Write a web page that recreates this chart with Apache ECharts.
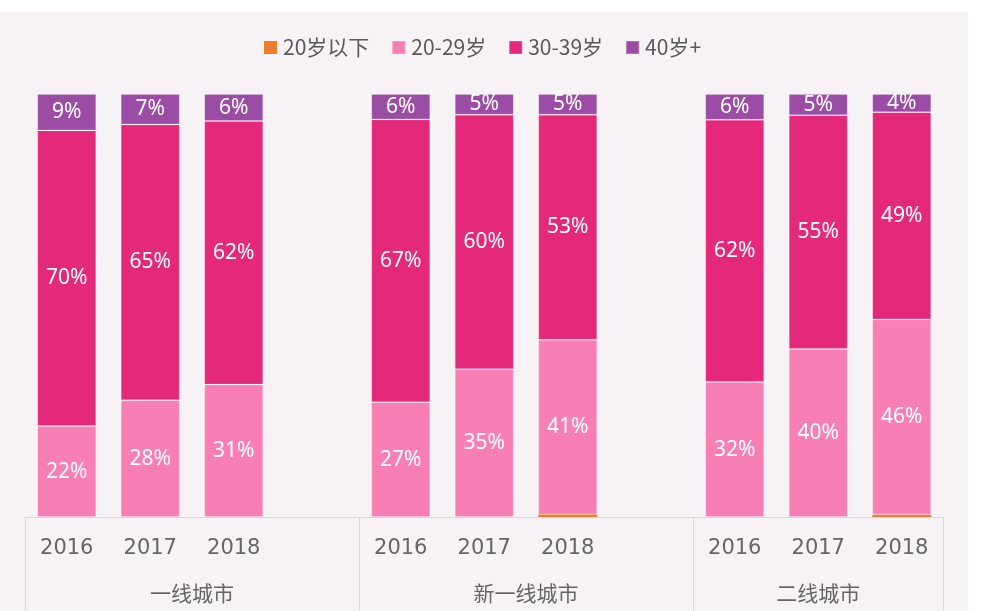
<!DOCTYPE html>
<html>
<head>
<meta charset="utf-8">
<script src="https://cdn.jsdelivr.net/npm/echarts@6/dist/echarts.min.js"></script>
<style>
html,body{margin:0;padding:0;background:#fff;}
#chart{width:981px;height:611px;}
</style>
</head>
<body>
<div id="chart"></div>
<script>
// Categories (blank slots separate city groups)
var years = ['2016','2017','2018','','2016','2017','2018','','2016','2017','2018'];
var groupNames = ['一线城市','新一线城市','二线城市'];
var seriesNames = ['20岁以下','20-29岁','30-39岁','40岁+'];
// Values (%)
var under20 = [0, 0, 0, null, 0, 0, 0.6, null, 0, 0, 0.5];
var age20_29 = [21.5, 27.6, 31.3, null, 27.1, 34.9, 41.3, null, 31.9, 39.7, 46.2];
var age30_39 = [69.9, 65.2, 62.3, null, 66.9, 60.2, 53.2, null, 62.0, 55.3, 49.0];
var age40p = [8.6, 7.2, 6.4, null, 6.0, 4.9, 4.9, null, 6.1, 5.0, 4.3];

var colors = ['#ed7d31', '#f77fb4', '#e4287a', '#9b4da5'];

// Group positions on a half-slot scale (0..22): label centres and separators
var groupCenters = [4, 12, 19];
var groupSeparators = [0, 8, 16, 22];

var chart = echarts.init(document.getElementById('chart'));
var labelCfg = {
  show: true,
  color: '#ffffff',
  fontSize: 21,
  fontFamily: '"Noto Sans", "Noto Sans CJK SC", sans-serif',
  formatter: function (p) { return p.value == null ? '' : Math.round(p.value) + '%'; }
};
function mk(name, data, idx, withLabel) {
  return {
    name: name,
    type: 'bar',
    stack: 'total',
    data: data,
    barWidth: 59,
    xAxisIndex: 0,
    itemStyle: { color: colors[idx], borderColor: 'rgba(255,255,255,0.18)', borderWidth: withLabel ? 1 : 0 },
    label: withLabel ? labelCfg : { show: false },
    emphasis: { disabled: true }
  };
}
chart.setOption({
  backgroundColor: '#ffffff',
  animation: false,
  graphic: [{
    type: 'rect',
    z: -100,
    silent: true,
    shape: { x: 0, y: 12, width: 968, height: 600 },
    style: { fill: '#f7f2f6' }
  }],
  color: colors,
  legend: {
    top: 32,
    left: 259,
    itemWidth: 13,
    itemHeight: 13,
    itemGap: 22,
    icon: 'rect',
    data: seriesNames,
    textStyle: { fontSize: 21, color: '#595959', fontFamily: '"Noto Sans CJK SC", sans-serif', padding: [0, 0, 0, 1] }
  },
  grid: { left: 25, right: 37.5, top: 94, bottom: 94, containLabel: false },
  xAxis: [{
    type: 'category',
    data: years,
    axisLine: { show: true, lineStyle: { color: '#d9d9d9', width: 1 } },
    axisTick: { show: false },
    axisLabel: { interval: 0, margin: 21, fontSize: 21, color: '#666666', fontFamily: '"DejaVu Sans", sans-serif' }
  }, {
    type: 'value',
    position: 'bottom',
    min: 0,
    max: 22,
    splitLine: { show: false },
    axisLine: { show: false },
    axisTick: {
      show: true,
      length: 100,
      customValues: groupSeparators,
      lineStyle: { color: '#d9d9d9', width: 1 }
    },
    axisLabel: {
      margin: 66,
      fontSize: 21,
      color: '#666666',
      fontFamily: '"Noto Sans CJK SC", sans-serif',
      customValues: groupCenters,
      formatter: function (v) {
        var i = groupCenters.indexOf(Math.round(v));
        return i >= 0 ? groupNames[i] : '';
      }
    }
  }],
  yAxis: { type: 'value', min: 0, max: 100, show: false, splitLine: { show: false } },
  series: [
    mk(seriesNames[0], under20, 0, false),
    mk(seriesNames[1], age20_29, 1, true),
    mk(seriesNames[2], age30_39, 2, true),
    mk(seriesNames[3], age40p, 3, true)
  ]
});
</script>
</body>
</html>
